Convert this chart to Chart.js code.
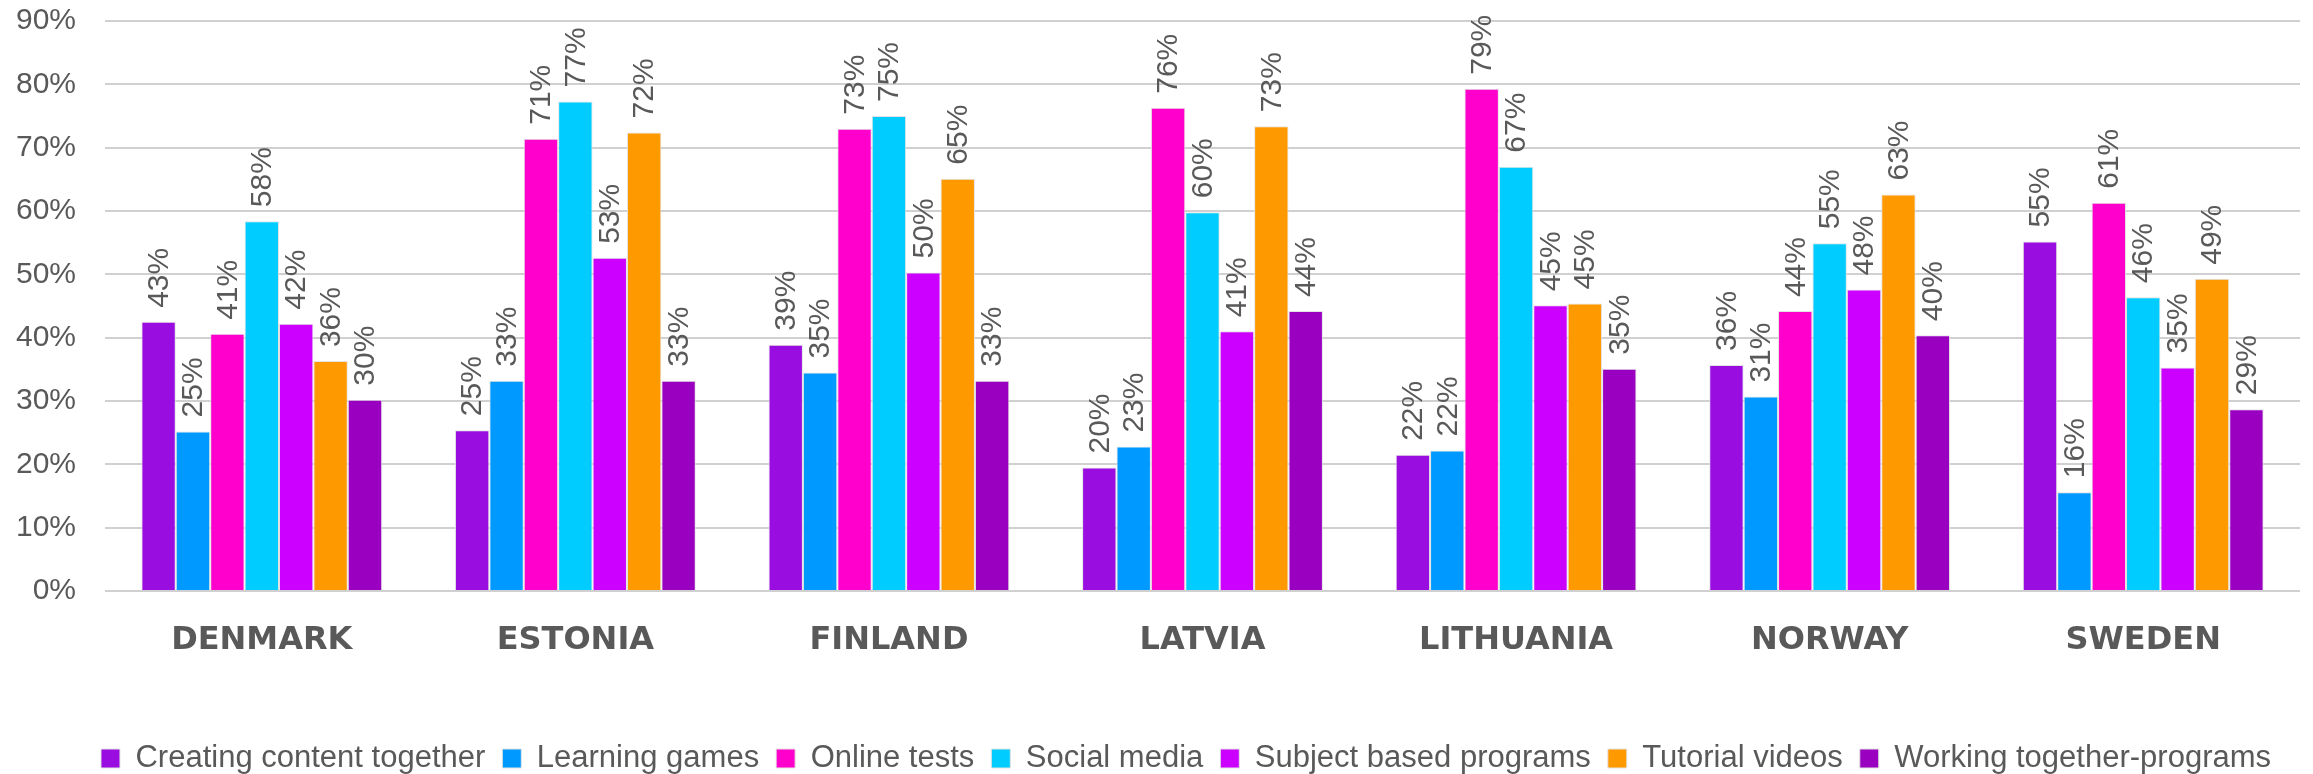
<!DOCTYPE html>
<html>
<head>
<meta charset="utf-8">
<script src="https://cdn.jsdelivr.net/npm/chart.js@4"></script>
<style>
  html, body { margin: 0; padding: 0; background: #fff; }
  #wrap { width: 2313px; height: 774px; }
</style>
</head>
<body>
<div id="wrap"><canvas id="barchart"></canvas></div>
<script>
const countries = ['DENMARK', 'ESTONIA', 'FINLAND', 'LATVIA', 'LITHUANIA', 'NORWAY', 'SWEDEN'];
const creatingContent = [42.5, 25.4, 38.9, 19.5, 21.5, 35.7, 55.2];
const learningGames = [25.2, 33.2, 34.5, 22.8, 22.2, 30.7, 15.6];
const onlineTests = [40.6, 71.4, 73.0, 76.3, 79.3, 44.2, 61.3];
const socialMedia = [58.4, 77.3, 75.0, 59.8, 67.0, 54.9, 46.4];
const subjectPrograms = [42.2, 52.6, 50.3, 41.0, 45.1, 47.6, 35.3];
const tutorialVideos = [36.3, 72.4, 65.1, 73.4, 45.4, 62.6, 49.3];
const workingTogether = [30.2, 33.2, 33.2, 44.2, 35.1, 40.4, 28.7];
const yTicks = [0, 10, 20, 30, 40, 50, 60, 70, 80, 90];

const grey = '#595959';

// rotated value labels above each bar
const valueLabels = {
  id: 'valueLabels',
  afterLayout(chart) {
    // legend sits a bit right of the page centre in the original
    chart.legend.left += 28;
    chart.legend.right += 28;
  },
  afterDatasetsDraw(chart) {
    const c = chart.ctx;
    c.save();
    c.font = '30px "Liberation Sans", Arial, sans-serif';
    c.fillStyle = grey;
    c.textAlign = 'left';
    c.textBaseline = 'middle';
    chart.data.datasets.forEach((ds, i) => {
      chart.getDatasetMeta(i).data.forEach((bar, j) => {
        c.save();
        c.translate(bar.x, bar.y - 14);
        c.rotate(-Math.PI / 2);
        c.fillText(Math.round(ds.data[j]) + '%', 0, 1);
        c.restore();
      });
    });
    c.restore();
  }
};

function series(label, data, color) {
  return {
    label: label,
    data: data,
    backgroundColor: color,
    borderColor: '#e3e3e3',
    borderWidth: 1,
    categoryPercentage: 0.768,
    barPercentage: 1
  };
}

const ctx = document.getElementById('barchart');
const barchart = new Chart(ctx, {
  type: 'bar',
  data: {
    labels: countries,
    datasets: [
      series('Creating content together', creatingContent, '#9a0de0'),
      series('Learning games', learningGames, '#0099ff'),
      series('Online tests', onlineTests, '#ff00cc'),
      series('Social media', socialMedia, '#00ccff'),
      series('Subject based programs', subjectPrograms, '#cc00ff'),
      series('Tutorial videos', tutorialVideos, '#ff9900'),
      series('Working together-programs', workingTogether, '#9900c0')
    ]
  },
  options: {
    responsive: true,
    maintainAspectRatio: false,
    animation: false,
    layout: { padding: { left: 16, right: 13, top: 21, bottom: -10 } },
    plugins: {
      tooltip: { enabled: false },
      legend: {
        position: 'bottom',
        labels: {
          boxWidth: 19,
          boxHeight: 19,
          padding: 17,
          color: grey,
          font: { family: '"Liberation Sans", Arial, sans-serif', size: 31 }
        }
      }
    },
    scales: {
      x: {
        grid: { display: false, drawTicks: false },
        border: { display: false },
        ticks: {
          padding: 30,
          color: grey,
          font: { family: '"DejaVu Sans", sans-serif', size: 32, weight: 'bold' }
        },
        afterFit: (axis) => { axis.height = 135; }
      },
      y: {
        min: 0,
        max: 90,
        afterBuildTicks: (axis) => { axis.ticks = yTicks.map(v => ({ value: v })); },
        afterFit: (axis) => {
          axis.width = 89;
          axis.paddingTop = 0;
          axis.paddingBottom = 0;
        },
        grid: { color: '#d0d0d0', lineWidth: 2, drawTicks: false },
        border: { display: false },
        ticks: {
          padding: 29,
          color: grey,
          font: { family: '"Liberation Sans", Arial, sans-serif', size: 30 },
          callback: (v) => v + '%'
        }
      }
    }
  },
  plugins: [valueLabels]
});
</script>
</body>
</html>
